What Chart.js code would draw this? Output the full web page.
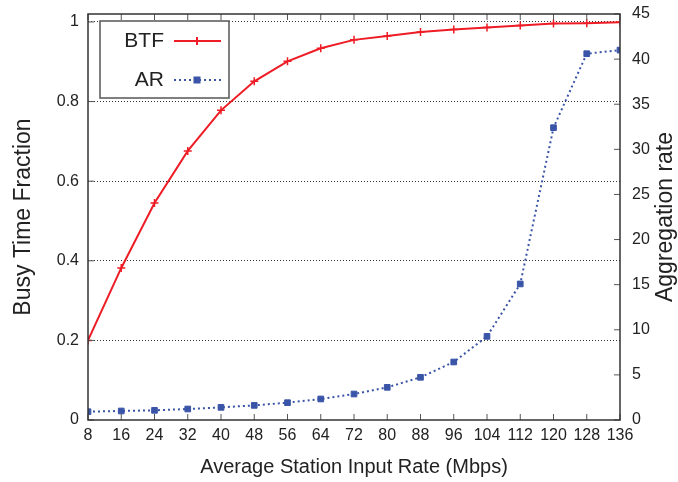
<!DOCTYPE html>
<html>
<head>
<meta charset="utf-8">
<script src="https://cdn.jsdelivr.net/npm/chart.js@4"></script>
<style>
  html, body { margin: 0; padding: 0; background: #fff; }
</style>
</head>
<body>
<canvas id="chart" width="678" height="482"></canvas>
<script>
const rates = [8, 16, 24, 32, 40, 48, 56, 64, 72, 80, 88, 96, 104, 112, 120, 128, 136];
const btf = [0.2, 0.382, 0.545, 0.676, 0.778, 0.851, 0.901, 0.934, 0.955, 0.965, 0.975, 0.981, 0.986, 0.991, 0.996, 0.997, 0.999];
const ar = [0.92, 1.0, 1.07, 1.22, 1.4, 1.62, 1.92, 2.33, 2.88, 3.62, 4.73, 6.43, 9.27, 15.08, 32.4, 40.6, 41.0];
const leftTicks = [0, 0.2, 0.4, 0.6, 0.8, 1];
const rightTicks = [0, 5, 10, 15, 20, 25, 30, 35, 40, 45];

const RED = '#ee1c25';
const BLUE = '#3a55a8';
const FONT = '"Liberation Sans", Arial, sans-serif';

// fixed box sizes, and no label overhang padding pushing the plot area around
const fixSize = (w, h) => s => {
  if (w) s.width = w;
  if (h) s.height = h;
  s.paddingTop = s.paddingBottom = s.paddingLeft = s.paddingRight = 0;
};

const frame = {
  id: 'frame',
  afterDraw(chart) {
    const { ctx, chartArea: a, scales } = chart;
    ctx.save();
    // inward ticks
    ctx.strokeStyle = '#555';
    ctx.lineWidth = 1;
    ctx.beginPath();
    rates.forEach(v => {
      const x = scales.x.getPixelForValue(v);
      ctx.moveTo(x, a.bottom); ctx.lineTo(x, a.bottom - 6);
      ctx.moveTo(x, a.top); ctx.lineTo(x, a.top + 6);
    });
    leftTicks.forEach(v => {
      const y = scales.y.getPixelForValue(v);
      ctx.moveTo(a.left, y); ctx.lineTo(a.left + 6, y);
    });
    rightTicks.forEach(v => {
      const y = scales.y2.getPixelForValue(v);
      ctx.moveTo(a.right, y); ctx.lineTo(a.right - 6, y);
    });
    ctx.stroke();
    // box
    ctx.strokeStyle = '#333';
    ctx.lineWidth = 1.5;
    ctx.strokeRect(a.left, a.top, a.right - a.left, a.bottom - a.top);

    // right axis title, reading bottom to top
    ctx.fillStyle = '#222';
    ctx.font = '23px ' + FONT;
    ctx.textAlign = 'center';
    ctx.textBaseline = 'middle';
    ctx.translate(666, (a.top + a.bottom) / 2);
    ctx.rotate(-Math.PI / 2);
    ctx.fillText('Aggregation rate', 0, 0);
    ctx.restore();

    // legend
    ctx.save();
    ctx.fillStyle = '#fff';
    ctx.fillRect(100, 21, 129, 77);
    ctx.strokeStyle = '#555';
    ctx.lineWidth = 1.5;
    ctx.strokeRect(100, 21, 129, 77);
    ctx.fillStyle = '#222';
    ctx.font = '21px ' + FONT;
    ctx.textAlign = 'right';
    ctx.textBaseline = 'middle';
    ctx.fillText('BTF', 164, 41);
    ctx.fillText('AR', 164, 80);
    ctx.strokeStyle = RED;
    ctx.lineWidth = 2;
    ctx.beginPath(); ctx.moveTo(174, 41); ctx.lineTo(221, 41); ctx.stroke();
    ctx.beginPath(); ctx.moveTo(197, 37); ctx.lineTo(197, 45); ctx.moveTo(193, 41); ctx.lineTo(201, 41); ctx.stroke();
    ctx.strokeStyle = BLUE;
    ctx.setLineDash([2, 3]);
    ctx.beginPath(); ctx.moveTo(174, 80); ctx.lineTo(221, 80); ctx.stroke();
    ctx.setLineDash([]);
    ctx.fillStyle = BLUE;
    ctx.fillRect(193.5, 76.5, 7, 7);
    ctx.restore();
  }
};

new Chart(document.getElementById('chart'), {
  type: 'line',
  data: {
    datasets: [
      {
        label: 'BTF',
        data: rates.map((r, i) => ({ x: r, y: btf[i] })),
        yAxisID: 'y',
        borderColor: RED,
        backgroundColor: RED,
        borderWidth: 2,
        pointStyle: 'cross',
        pointRadius: 4,
        pointBorderWidth: 1.5,
        tension: 0
      },
      {
        label: 'AR',
        data: rates.map((r, i) => ({ x: r, y: ar[i] })),
        yAxisID: 'y2',
        borderColor: BLUE,
        backgroundColor: BLUE,
        borderWidth: 2,
        borderDash: [2, 3],
        pointStyle: 'rect',
        pointRadius: 4,
        pointBorderWidth: 1,
        tension: 0
      }
    ]
  },
  options: {
    responsive: false,
    animation: false,
    layout: { autoPadding: false, padding: { top: 14, right: 0, bottom: 0, left: 0 } },
    plugins: { legend: { display: false }, tooltip: { enabled: false } },
    scales: {
      x: {
        type: 'linear',
        min: 8, max: 136,
        afterBuildTicks: s => { s.ticks = rates.map(v => ({ value: v })); },
        afterFit: fixSize(0, 62),
        grid: { display: false, drawTicks: false },
        border: { display: false },
        ticks: { color: '#222', font: { family: FONT, size: 16 }, padding: 6, maxRotation: 0, autoSkip: false },
        title: { display: true, text: 'Average Station Input Rate (Mbps)', color: '#222',
                 font: { family: FONT, size: 20 }, padding: { top: 0, bottom: 3 } }
      },
      y: {
        position: 'left',
        min: 0, max: 1.02,
        afterBuildTicks: s => { s.ticks = leftTicks.map(v => ({ value: v })); },
        afterFit: fixSize(88, 0),
        grid: { drawTicks: false, color: c => c.tick && c.tick.value === 0 ? 'rgba(0,0,0,0)' : '#333', lineWidth: 1 },
        border: { display: false, dash: [1, 2] },
        ticks: { color: '#222', font: { family: FONT, size: 16 }, padding: 9,
                 callback: v => String(+v.toFixed(1)) },
        title: { display: true, text: 'Busy Time Fraction', color: '#222',
                 font: { family: FONT, size: 23 }, padding: { top: 10, bottom: 0 } }
      },
      y2: {
        position: 'right',
        min: 0, max: 45,
        afterBuildTicks: s => { s.ticks = rightTicks.map(v => ({ value: v })); },
        afterFit: fixSize(58, 0),
        grid: { display: false, drawTicks: false },
        border: { display: false },
        ticks: { color: '#222', font: { family: FONT, size: 16 }, padding: 12 }
      }
    }
  },
  plugins: [frame]
});
</script>
</body>
</html>
